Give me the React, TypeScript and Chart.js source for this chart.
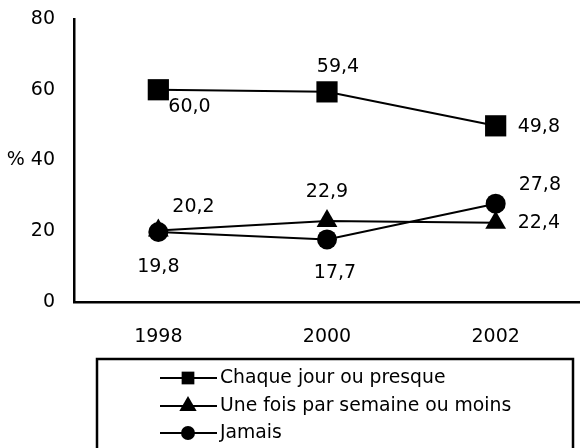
import React, { useEffect, useRef } from "react";
import { Chart, registerables } from "chart.js";

Chart.register(...registerables);

const years = ["1998", "2000", "2002"];
const seriesNames = ["Chaque jour ou presque", "Une fois par semaine ou moins", "Jamais"];
const dailyValues = [60.0, 59.4, 49.8];
const weeklyValues = [20.2, 22.9, 22.4];
const neverValues = [19.8, 17.7, 27.8];
const yTicks = [0, 20, 40, 60, 80];

const FONT = "'DejaVu Sans', sans-serif";

// label placement per series / per point: [dx, dy, align]
const labelPlacement: [number, number, CanvasTextAlign][][] = [
  [[10, 17, "left"], [11, -25, "center"], [22, 1, "left"]],
  [[14, -23, "left"], [0, -29, "center"], [22, 0, "left"]],
  [[0, 35, "center"], [8, 34, "center"], [23, -19, "left"]],
];

const fmt = (v: number) => v.toFixed(1).replace(".", ",");

function drawMarker(ctx: CanvasRenderingContext2D, style: string, r: number, x: number, y: number) {
  ctx.beginPath();
  if (style === "rect") {
    const s = Math.SQRT1_2 * r;
    ctx.rect(x - s, y - s, 2 * s, 2 * s);
  } else if (style === "triangle") {
    ctx.moveTo(x, y - r);
    ctx.lineTo(x + r * Math.sin((2 * Math.PI) / 3), y - r * Math.cos((2 * Math.PI) / 3));
    ctx.lineTo(x + r * Math.sin((4 * Math.PI) / 3), y - r * Math.cos((4 * Math.PI) / 3));
    ctx.closePath();
  } else {
    ctx.arc(x, y, r, 0, Math.PI * 2);
  }
  ctx.fill();
}

const dataLabelPlugin = {
  id: "dataLabels",
  afterDatasetsDraw(chart: any) {
    const ctx = chart.ctx;
    ctx.save();
    ctx.fillStyle = "#000";
    ctx.font = `19px ${FONT}`;
    ctx.textBaseline = "middle";
    chart.data.datasets.forEach((ds: any, i: number) => {
      const meta = chart.getDatasetMeta(i);
      meta.data.forEach((pt: any, j: number) => {
        const [dx, dy, align] = labelPlacement[i][j];
        ctx.textAlign = align;
        ctx.fillText(fmt(ds.data[j]), pt.x + dx, pt.y + dy);
      });
    });
    ctx.restore();
  },
};

const legendPlugin = {
  id: "boxLegend",
  afterDraw(chart: any) {
    const ctx = chart.ctx;
    const left = chart.chartArea.left + 23;
    const top = 359;
    const right = 573;
    ctx.save();
    ctx.strokeStyle = "#000";
    ctx.lineWidth = 2.5;
    ctx.strokeRect(left, top, right - left, 120);
    const rows = [378, 406, 433];
    const radii = [9, 10, 7];
    chart.data.datasets.forEach((ds: any, i: number) => {
      const y = rows[i];
      ctx.strokeStyle = "#000";
      ctx.lineWidth = 2;
      ctx.beginPath();
      ctx.moveTo(left + 63, y);
      ctx.lineTo(left + 120, y);
      ctx.stroke();
      ctx.fillStyle = "#000";
      drawMarker(ctx, ds.pointStyle, radii[i], left + 91, y);
      ctx.font = `18.8px ${FONT}`;
      ctx.textAlign = "left";
      ctx.textBaseline = "middle";
      ctx.fillText(ds.label, left + 123, y);
    });
    ctx.restore();
  },
};

export default function App() {
  const ref = useRef<HTMLCanvasElement>(null);
  useEffect(() => {
    if (!ref.current) return;
    const common = {
      borderColor: "#000",
      backgroundColor: "#000",
      pointBackgroundColor: "#000",
      pointBorderColor: "#000",
      borderWidth: 2,
      pointBorderWidth: 0,
      tension: 0,
    };
    const chart = new Chart(ref.current, {
      type: "line",
      data: {
        labels: years,
        datasets: [
          { ...common, label: seriesNames[0], data: dailyValues, pointStyle: "rect", pointRadius: 15, order: 2 },
          { ...common, label: seriesNames[1], data: weeklyValues, pointStyle: "triangle", pointRadius: 12, order: 1 },
          { ...common, label: seriesNames[2], data: neverValues, pointStyle: "circle", pointRadius: 10, order: 0 },
        ],
      },
      options: {
        responsive: false,
        animation: false,
        layout: { autoPadding: false, padding: { top: 19, right: 0, left: 0, bottom: 0 } },
        plugins: { legend: { display: false }, tooltip: { enabled: false } },
        scales: {
          x: {
            offset: true,
            grid: { display: true, drawOnChartArea: false, drawTicks: true, tickLength: 24, color: "rgba(0,0,0,0)" },
            border: { display: true, color: "#000", width: 2.5 },
            ticks: { color: "#000", font: { family: FONT, size: 19 }, padding: 0 },
            afterFit: (s: any) => {
              s.height = 146;
            },
          },
          y: {
            min: 0,
            max: 80,
            afterBuildTicks: (s: any) => {
              s.ticks = yTicks.map((v) => ({ value: v }));
            },
            grid: { display: true, drawOnChartArea: false, drawTicks: true, tickLength: 19, color: "rgba(0,0,0,0)" },
            border: { display: true, color: "#000", width: 2.5 },
            ticks: {
              color: "#000",
              font: { family: FONT, size: 19 },
              padding: 0,
              callback: (v: any) => (v === 40 ? "% 40" : String(v)),
            },
            afterFit: (s: any) => {
              s.width = 74;
            },
          },
        },
      },
      plugins: [dataLabelPlugin, legendPlugin],
    } as any);
    return () => chart.destroy();
  }, []);
  return (
    <div style={{ position: "absolute", left: 0, top: 0, width: 580, height: 448, background: "#fff" }}>
      <canvas ref={ref} width={580} height={448} />
    </div>
  );
}
